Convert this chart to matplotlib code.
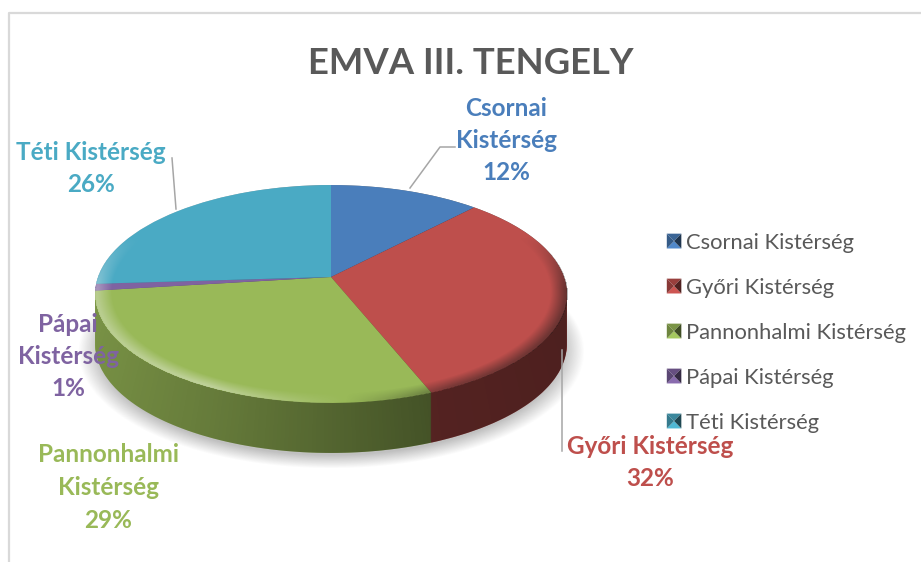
import numpy as np
import matplotlib
matplotlib.use('Agg')
import matplotlib.pyplot as plt
from matplotlib.colors import to_rgb
from matplotlib.legend_handler import HandlerBase
from matplotlib.patches import Patch, Polygon
from matplotlib.transforms import Affine2D, Transform

plt.rcParams['font.family'] = ['Lato', 'DejaVu Sans']

title = 'EMVA III. TENGELY'
regions = ['Csornai Kistérség', 'Győri Kistérség', 'Pannonhalmi Kistérség', 'Pápai Kistérség', 'Téti Kistérség']
shares = [12, 32, 29, 1, 26]
colors = ['#4A7EBB', '#BE4F4C', '#99B958', '#7F63A1', '#4AAAC4']

W, H = 921, 562
APEX = (331, H - 277)
A, B, K = 233.0, 106.3, 0.156
DEPTH = 50


class Persp(Transform):
    # unit disc -> pixels around the apex, the pie is tilted so the front is bigger
    input_dims = 2
    output_dims = 2
    is_separable = False

    def transform_non_affine(self, values):
        v = np.asarray(values, dtype=float)
        w = 1 + K * v[:, 1]
        return np.column_stack([A * v[:, 0] / w, B * v[:, 1] / w])


def draw_pie(ax, trans, colors, radius=1.0):
    wedges, _ = ax.pie(shares, colors=colors, startangle=90, counterclock=False,
                       radius=radius, wedgeprops={'linewidth': 0})
    for w in wedges:
        w.set_transform(trans)


class PyramidHandler(HandlerBase):
    # legend key with the little bevelled look
    def create_artists(self, legend, orig_handle, xdescent, ydescent, width, height, fontsize, trans):
        c = np.array(to_rgb(orig_handle.get_facecolor()))
        x0, y0 = -xdescent, -ydescent
        x1, y1 = x0 + width, y0 + height
        mx, my = (x0 + x1) / 2, (y0 + y1) / 2
        faces = [([(x0, y0), (x1, y0), (mx, my)], 1.08),
                 ([(x0, y1), (x1, y1), (mx, my)], 0.8),
                 ([(x0, y0), (x0, y1), (mx, my)], 0.72),
                 ([(x1, y0), (x1, y1), (mx, my)], 0.42)]
        out = []
        for pts, f in faces:
            out.append(Polygon(pts, facecolor=np.clip(c * f, 0, 1), edgecolor='none', transform=trans))
        return out


fig = plt.figure(figsize=(W / 100, H / 100), dpi=100)
ax = fig.add_axes([0, 0, 1, 1])

# pixel grid mapped back on to the disc, used for shadow and shading
px, py = np.meshgrid(np.arange(W) + 0.5, np.arange(H) + 0.5)


def disc_coords(shift):
    Y = py - APEX[1] + shift
    X = px - APEX[0]
    y = Y / (B - K * Y)
    x = X * (1 + K * y) / A
    return x, y, np.hypot(x, y)


# shadow
sx, sy, sr = disc_coords(DEPTH + 5)
rgba = np.zeros((H, W, 4))
rgba[..., :3] = 0.35
rgba[..., 3] = 0.38 * np.clip((1.07 - sr) / 0.09, 0, 1) * (sy < 0.25)
ax.imshow(rgba, extent=(0, W, 0, H), origin='lower', aspect='auto', zorder=1, interpolation='bilinear')

# side of the pie
for d in range(DEPTH, 0, -1):
    tr = Persp() + Affine2D().translate(APEX[0], APEX[1] - d) + ax.transData
    draw_pie(ax, tr, colors)

t = np.linspace(0, 2 * np.pi, 400)
rim = Persp().transform_non_affine(np.column_stack([np.cos(t), np.sin(t)]))
rim[:, 0] += APEX[0]
rim[:, 1] += APEX[1]
rim[np.sin(t) < -K, 1] -= DEPTH
sx, sy, sr = disc_coords(0)
side = np.zeros((H, W, 4))
side[..., 3] = 1 - np.interp(sx, [-1.0, -0.4, 0.37, 1.0], [0.80, 0.66, 0.44, 0.40])
im = ax.imshow(side, extent=(0, W, 0, H), origin='lower', aspect='auto', zorder=1, interpolation='bilinear')
im.set_clip_path(Polygon(rim, transform=ax.transData))

# top face
top = Persp() + Affine2D().translate(*APEX) + ax.transData
draw_pie(ax, top, colors)

# bevel on the rim: light on the left, dark on the right
edge = np.clip((sr - 0.93) / 0.06, 0, 1) * (sr <= 1.0)
front = np.clip((0.4 - sy) / 0.5, 0, 1)
light = np.interp(sx, [-1.0, -0.45, 0.05, 0.45, 1.0], [0.35, 0.42, 0.0, -0.42, -0.5])
bevel = np.zeros((H, W, 4))
bevel[..., :3] = np.where(light[..., None] > 0, 0.95, 0.1)
bevel[..., 3] = edge * front * np.abs(light)
ax.imshow(bevel, extent=(0, W, 0, H), origin='lower', aspect='auto', zorder=3, interpolation='bilinear')

ax.set_xlim(0, W)
ax.set_ylim(0, H)
ax.set_aspect('auto')
ax.axis('off')

# frame of the chart
ax.plot([9, 9, W], [0, H - 13, H - 13], color='#D9D9D9', lw=1.6, clip_on=False, zorder=0)

ax.text(471, H - 63, title, ha='center', va='center', fontsize=26.3, fontweight='bold', color='#595959')

# leader lines
ax.plot([410, 440, 455], [H - 188, H - 147, H - 147], color='#A6A6A6', lw=1.1, zorder=4)
ax.plot([562, 562], [H - 350, H - 451], color='#A6A6A6', lw=1.1, zorder=4)
ax.plot([172, 176], [H - 158, H - 209], color='#A6A6A6', lw=1.1, zorder=4)

# data labels
label_lines = [['Csornai', 'Kistérség'], ['Győri Kistérség'], ['Pannonhalmi', 'Kistérség'],
               ['Pápai', 'Kistérség'], ['Téti Kistérség']]
label_x = [506, 650, 108, 68, 91]
label_y = [108, 446, 455, 324, 152]
for i, lines in enumerate(label_lines):
    rows = lines + ['%d%%' % shares[i]]
    for j, row in enumerate(rows):
        ax.text(label_x[i], H - (label_y[i] + j * 32.5), row, ha='center', va='center', fontsize=17.5,
                fontweight='bold', color=colors[i], zorder=5)

handles = [Patch(facecolor=c) for c in colors]
ax.legend(handles, regions, handler_map={Patch: PyramidHandler()}, loc='upper left',
          bbox_to_anchor=(658 / W, (H - 224) / H), frameon=False, fontsize=15.85, labelcolor='#595959',
          handlelength=0.66, handleheight=0.66, handletextpad=0.2, labelspacing=1.135, borderpad=0, borderaxespad=0.4)

fig.savefig('out.png', dpi=100)
